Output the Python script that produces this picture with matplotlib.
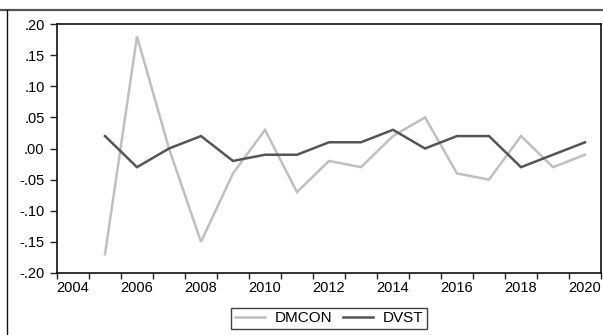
import matplotlib
matplotlib.use("Agg")
import matplotlib.pyplot as plt
from matplotlib.lines import Line2D
import numpy as np

years = [2005, 2006, 2007, 2008, 2009, 2010, 2011, 2012, 2013, 2014,
         2015, 2016, 2017, 2018, 2019, 2020]
dmcon = [-0.17, 0.18, 0.00, -0.15, -0.04, 0.03, -0.07, -0.02, -0.03, 0.02,
         0.05, -0.04, -0.05, 0.02, -0.03, -0.01]
dvst = [0.02, -0.03, 0.00, 0.02, -0.02, -0.01, -0.01, 0.01, 0.01, 0.03,
        0.00, 0.02, 0.02, -0.03, -0.01, 0.01]
ytick_vals = [-0.20, -0.15, -0.10, -0.05, 0.00, 0.05, 0.10, 0.15, 0.20]
xlabel_years = [2004, 2006, 2008, 2010, 2012, 2014, 2016, 2018, 2020]

plt.rcParams['font.family'] = ['Liberation Sans', 'DejaVu Sans']

W, H = 603, 335
fig = plt.figure(figsize=(W / 100, H / 100), dpi=100)
ax = fig.add_axes([57 / W, 1 - 273 / H, (601 - 57) / W, (273 - 24) / H])

# annual observations sit in the middle of each year interval
x = np.array(years) + 0.5
ax.plot(x, dmcon, color='#c0c0c0', lw=1.8, label='DMCON', solid_joinstyle='miter')
ax.plot(x, dvst, color='#555555', lw=1.8, label='DVST', solid_joinstyle='miter')

ax.set_xlim(2004, 2021)
ax.set_ylim(-0.20, 0.20)

# year-boundary ticks, labels centred within the year
ax.set_xticks(np.arange(2004, 2022))
ax.set_xticklabels([])
ax.set_xticks(np.array(xlabel_years) + 0.5, minor=True)
ax.set_xticklabels([str(y) for y in xlabel_years], minor=True)
ax.tick_params(axis='x', which='major', direction='out', length=4, width=1, color='#222222')
ax.tick_params(axis='x', which='minor', length=0, pad=6, labelsize=10.5)

def fmt(v):
    s = f"{v:.2f}"
    return s.replace("0.", ".")
ax.set_yticks(ytick_vals)
ax.set_yticklabels([fmt(v) for v in ytick_vals])
ax.tick_params(axis='y', direction='out', length=5, width=1, color='#222222', labelsize=10.5, pad=4)

for sp in ax.spines.values():
    sp.set_linewidth(1.2)
    sp.set_color('#111111')

# frame lines around the plot area
fig.add_artist(Line2D([0, 1], [1 - 10 / H, 1 - 10 / H], transform=fig.transFigure,
                      color='#555555', lw=1.6))
fig.add_artist(Line2D([6.5 / W, 6.5 / W], [0, 1 - 10 / H], transform=fig.transFigure,
                      color='#111111', lw=1.0))

leg = fig.legend(loc='center', bbox_to_anchor=(329 / W, 1 - 318.5 / H), ncol=2,
                 fontsize=11, frameon=True, fancybox=False, handlelength=2.0,
                 handletextpad=0.6, columnspacing=0.7, borderpad=0.25,
                 borderaxespad=0)
leg.get_frame().set_edgecolor('#111111')
leg.get_frame().set_linewidth(1.0)

fig.savefig('out.png', dpi=100)
